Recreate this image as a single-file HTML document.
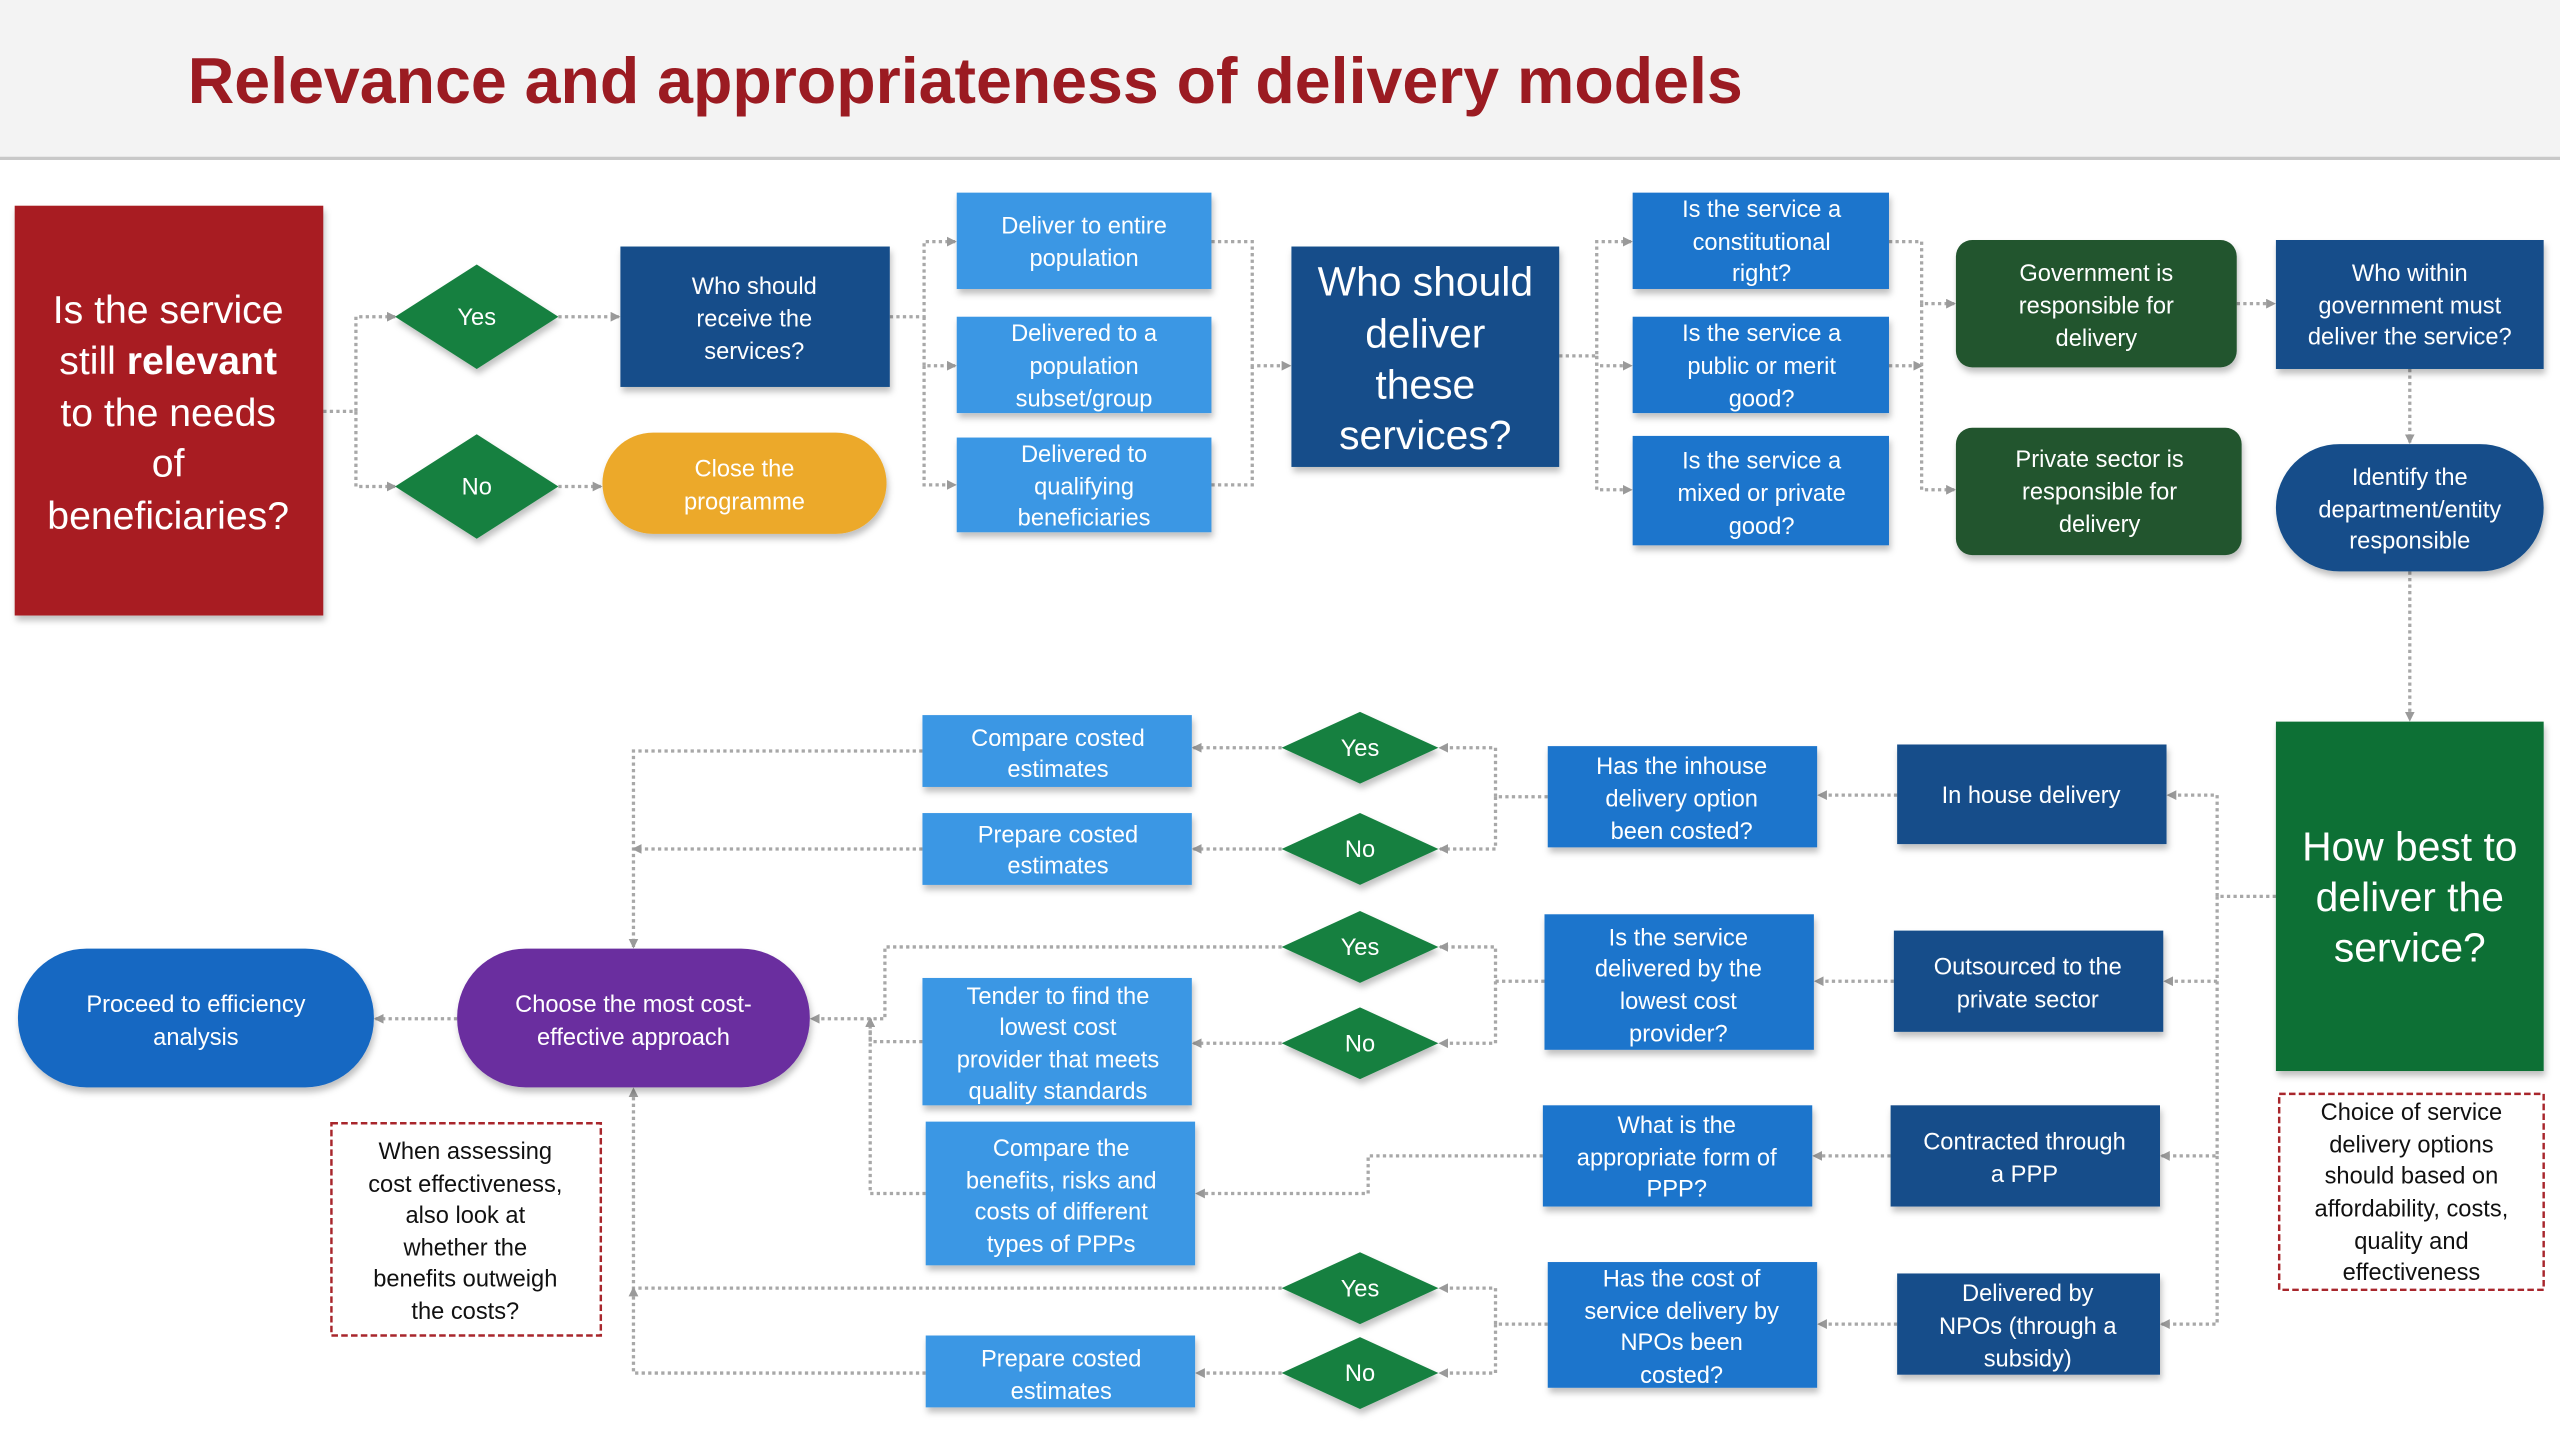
<!DOCTYPE html>
<html><head><meta charset="utf-8"><style>
html,body{margin:0;padding:0;background:#fff;}
svg{display:block;font-family:"Liberation Sans",Arial,sans-serif;}
</style></head><body>
<svg width="2560" height="1440" viewBox="0 0 1568 882" xmlns="http://www.w3.org/2000/svg">
<defs>
<marker id="a" markerWidth="6" markerHeight="6" refX="5" refY="3" orient="auto" markerUnits="userSpaceOnUse"><path d="M0,0 L6,3 L0,6 z" fill="#9a9a9a"/></marker>
<filter id="s" x="-10%" y="-10%" width="130%" height="140%"><feDropShadow dx="1" dy="3" stdDeviation="2" flood-color="#000" flood-opacity="0.25"/></filter>
</defs>
<rect x="0" y="0" width="1568" height="97" fill="#f3f3f3"/>
<line x1="0" y1="97" x2="1568" y2="97" stroke="#c8c8c8" stroke-width="2"/>
<text x="115" y="63" font-size="39.5" font-weight="bold" fill="#9b1b22">Relevance and appropriateness of delivery models</text>

<g fill="none" stroke="#a8a8a8" stroke-width="2" stroke-dasharray="2,2" marker-end="url(#a)">
<path d="M198,252 H218 V194 H242"/>
<path d="M218,252 V298 H242"/>
<path d="M342,194 H379"/>
<path d="M342,298 H368"/>
<path d="M545,194 H566 V148 H585"/>
<path d="M566,194 V224 H585"/>
<path d="M566,224 V297 H585"/>
<path d="M742,148 H767 V224 H790"/>
<path d="M742,297 H767 V224" marker-end="none"/>
<path d="M955,218 H978 V148 H999"/>
<path d="M978,218 V224 H999"/>
<path d="M978,218 V300 H999"/>
<path d="M1157,148 H1177 V186 H1197"/>
<path d="M1157,224 H1177"/>
<path d="M1177,186 V300 H1197"/>
<path d="M1370,186 H1393"/>
<path d="M1476,226 V271"/>
<path d="M1476,350 V441"/>
<path d="M1394,549 H1358 V487 H1328"/>
<path d="M1358,549 V601 H1326"/>
<path d="M1358,601 V708 H1324"/>
<path d="M1358,708 V811 H1324"/>
<path d="M1162,487 H1114"/>
<path d="M1160,601 H1112"/>
<path d="M1158,708 H1111"/>
<path d="M1162,811 H1114"/>
<path d="M948,488 H916 V458 H882"/>
<path d="M916,488 V520 H882"/>
<path d="M946,601 H916 V580 H882"/>
<path d="M916,601 V639 H882"/>
<path d="M948,811 H916 V789 H882"/>
<path d="M916,811 V841 H882"/>
<path d="M785,458 H731"/>
<path d="M785,520 H731"/>
<path d="M785,639 H731"/>
<path d="M785,841 H733"/>
<path d="M945,708 H838 V731 H733"/>
<path d="M565,460 H388 V580"/>
<path d="M565,520 H388"/>
<path d="M785,580 H542 V624 H497"/>
<path d="M565,638 H533 V624"/>
<path d="M567,731 H533 V624"/>
<path d="M785,789 H388 V667"/>
<path d="M567,841 H388 V789"/>
<path d="M280,624 H230"/>
</g>

<g filter="url(#s)">
<rect x="9" y="126" width="189" height="251" fill="#a81c22"/>
<path d="M292,162 L342,194 L292,226 L242,194 z" fill="#15803f"/>
<path d="M292,266 L342,298 L292,330 L242,298 z" fill="#15803f"/>
<rect x="380" y="151" width="165" height="86" fill="#124e8a"/>
<rect x="369" y="265" width="174" height="62" rx="31" fill="#eca92a"/>
<rect x="586" y="118" width="156" height="59" fill="#3a97e4"/>
<rect x="586" y="194" width="156" height="59" fill="#3a97e4"/>
<rect x="586" y="268" width="156" height="58" fill="#3a97e4"/>
<rect x="791" y="151" width="164" height="135" fill="#124e8a"/>
<rect x="1000" y="118" width="157" height="59" fill="#1c74cc"/>
<rect x="1000" y="194" width="157" height="59" fill="#1c74cc"/>
<rect x="1000" y="267" width="157" height="67" fill="#1c74cc"/>
<rect x="1198" y="147" width="172" height="78" rx="10" fill="#24552f"/>
<rect x="1198" y="262" width="175" height="78" rx="10" fill="#24552f"/>
<rect x="1394" y="147" width="164" height="79" fill="#124e8a"/>
<rect x="1394" y="272" width="164" height="78" rx="39" fill="#124e8a"/>
<rect x="1394" y="442" width="164" height="214" fill="#0e6f34"/>
<rect x="1162" y="456" width="165" height="61" fill="#124e8a"/>
<rect x="1160" y="570" width="165" height="62" fill="#124e8a"/>
<rect x="1158" y="677" width="165" height="62" fill="#124e8a"/>
<rect x="1162" y="780" width="161" height="62" fill="#124e8a"/>
<rect x="948" y="457" width="165" height="62" fill="#1c74cc"/>
<rect x="946" y="560" width="165" height="83" fill="#1c74cc"/>
<rect x="945" y="677" width="165" height="62" fill="#1c74cc"/>
<rect x="948" y="773" width="165" height="77" fill="#1c74cc"/>
<path d="M833,436 L881,458 L833,480 L785,458 z" fill="#15803f"/>
<path d="M833,498 L881,520 L833,542 L785,520 z" fill="#15803f"/>
<path d="M833,558 L881,580 L833,602 L785,580 z" fill="#15803f"/>
<path d="M833,617 L881,639 L833,661 L785,639 z" fill="#15803f"/>
<path d="M833,767 L881,789 L833,811 L785,789 z" fill="#15803f"/>
<path d="M833,819 L881,841 L833,863 L785,841 z" fill="#15803f"/>
<rect x="565" y="438" width="165" height="44" fill="#3a97e4"/>
<rect x="565" y="498" width="165" height="44" fill="#3a97e4"/>
<rect x="565" y="599" width="165" height="78" fill="#3a97e4"/>
<rect x="567" y="687" width="165" height="88" fill="#3a97e4"/>
<rect x="567" y="818" width="165" height="44" fill="#3a97e4"/>
<rect x="280" y="581" width="216" height="85" rx="42" fill="#6a2f9f"/>
<rect x="11" y="581" width="218" height="85" rx="42" fill="#1667c2"/>
</g>
<rect x="1396" y="670" width="162" height="120" fill="#fff" stroke="#a8262c" stroke-width="1.5" stroke-dasharray="4,2"/>
<rect x="203" y="688" width="165" height="130" fill="#fff" stroke="#a8262c" stroke-width="1.5" stroke-dasharray="4,2"/>

<g fill="#fff" text-anchor="middle" font-size="14.5">
<text font-size="24"><tspan x="103" y="198">Is the service</tspan><tspan x="103" y="229">still <tspan font-weight="bold">relevant</tspan></tspan><tspan x="103" y="261">to the needs</tspan><tspan x="103" y="292">of</tspan><tspan x="103" y="324">beneficiaries?</tspan></text>
<text x="292" y="199">Yes</text><text x="292" y="303">No</text>
<text><tspan x="462" y="180">Who should</tspan><tspan x="462" y="200">receive the</tspan><tspan x="462" y="220">services?</tspan></text>
<text><tspan x="456" y="292">Close the</tspan><tspan x="456" y="312">programme</tspan></text>
<text><tspan x="664" y="143">Deliver to entire</tspan><tspan x="664" y="163">population</tspan></text>
<text><tspan x="664" y="209">Delivered to a</tspan><tspan x="664" y="229">population</tspan><tspan x="664" y="249">subset/group</tspan></text>
<text><tspan x="664" y="283">Delivered to</tspan><tspan x="664" y="303">qualifying</tspan><tspan x="664" y="322">beneficiaries</tspan></text>
<text font-size="25"><tspan x="873" y="181">Who should</tspan><tspan x="873" y="213">deliver</tspan><tspan x="873" y="244">these</tspan><tspan x="873" y="275">services?</tspan></text>
<text><tspan x="1079" y="133">Is the service a</tspan><tspan x="1079" y="153">constitutional</tspan><tspan x="1079" y="172">right?</tspan></text>
<text><tspan x="1079" y="209">Is the service a</tspan><tspan x="1079" y="229">public or merit</tspan><tspan x="1079" y="249">good?</tspan></text>
<text><tspan x="1079" y="287">Is the service a</tspan><tspan x="1079" y="307">mixed or private</tspan><tspan x="1079" y="327">good?</tspan></text>
<text><tspan x="1284" y="172">Government is</tspan><tspan x="1284" y="192">responsible for</tspan><tspan x="1284" y="212">delivery</tspan></text>
<text><tspan x="1286" y="286">Private sector is</tspan><tspan x="1286" y="306">responsible for</tspan><tspan x="1286" y="326">delivery</tspan></text>
<text><tspan x="1476" y="172">Who within</tspan><tspan x="1476" y="192">government must</tspan><tspan x="1476" y="211">deliver the service?</tspan></text>
<text><tspan x="1476" y="297">Identify the</tspan><tspan x="1476" y="317">department/entity</tspan><tspan x="1476" y="336">responsible</tspan></text>
<text font-size="25"><tspan x="1476" y="527">How best to</tspan><tspan x="1476" y="558">deliver the</tspan><tspan x="1476" y="589">service?</tspan></text>
<text x="1244" y="492">In house delivery</text>
<text><tspan x="1242" y="597">Outsourced to the</tspan><tspan x="1242" y="617">private sector</tspan></text>
<text><tspan x="1240" y="704">Contracted through</tspan><tspan x="1240" y="724">a PPP</tspan></text>
<text><tspan x="1242" y="797">Delivered by</tspan><tspan x="1242" y="817">NPOs (through a</tspan><tspan x="1242" y="837">subsidy)</tspan></text>
<text><tspan x="1030" y="474">Has the inhouse</tspan><tspan x="1030" y="494">delivery option</tspan><tspan x="1030" y="514">been costed?</tspan></text>
<text><tspan x="1028" y="579">Is the service</tspan><tspan x="1028" y="598">delivered by the</tspan><tspan x="1028" y="618">lowest cost</tspan><tspan x="1028" y="638">provider?</tspan></text>
<text><tspan x="1027" y="694">What is the</tspan><tspan x="1027" y="714">appropriate form of</tspan><tspan x="1027" y="733">PPP?</tspan></text>
<text><tspan x="1030" y="788">Has the cost of</tspan><tspan x="1030" y="808">service delivery by</tspan><tspan x="1030" y="827">NPOs been</tspan><tspan x="1030" y="847">costed?</tspan></text>
<text x="833" y="463">Yes</text><text x="833" y="525">No</text><text x="833" y="585">Yes</text><text x="833" y="644">No</text><text x="833" y="794">Yes</text><text x="833" y="846">No</text>
<text><tspan x="648" y="457">Compare costed</tspan><tspan x="648" y="476">estimates</tspan></text>
<text><tspan x="648" y="516">Prepare costed</tspan><tspan x="648" y="535">estimates</tspan></text>
<text><tspan x="648" y="615">Tender to find the</tspan><tspan x="648" y="634">lowest cost</tspan><tspan x="648" y="654">provider that meets</tspan><tspan x="648" y="673">quality standards</tspan></text>
<text><tspan x="650" y="708">Compare the</tspan><tspan x="650" y="728">benefits, risks and</tspan><tspan x="650" y="747">costs of different</tspan><tspan x="650" y="767">types of PPPs</tspan></text>
<text><tspan x="650" y="837">Prepare costed</tspan><tspan x="650" y="857">estimates</tspan></text>
<text><tspan x="388" y="620">Choose the most cost-</tspan><tspan x="388" y="640">effective approach</tspan></text>
<text><tspan x="120" y="620">Proceed to efficiency</tspan><tspan x="120" y="640">analysis</tspan></text>
</g>
<g fill="#111" text-anchor="middle" font-size="14.5">
<text><tspan x="1477" y="686">Choice of service</tspan><tspan x="1477" y="706">delivery options</tspan><tspan x="1477" y="725">should  based on</tspan><tspan x="1477" y="745">affordability, costs,</tspan><tspan x="1477" y="765">quality and</tspan><tspan x="1477" y="784">effectiveness</tspan></text>
<text><tspan x="285" y="710">When assessing</tspan><tspan x="285" y="730">cost effectiveness,</tspan><tspan x="285" y="749">also look at</tspan><tspan x="285" y="769">whether the</tspan><tspan x="285" y="788">benefits outweigh</tspan><tspan x="285" y="808">the costs?</tspan></text>
</g>
</svg>
</body></html>
